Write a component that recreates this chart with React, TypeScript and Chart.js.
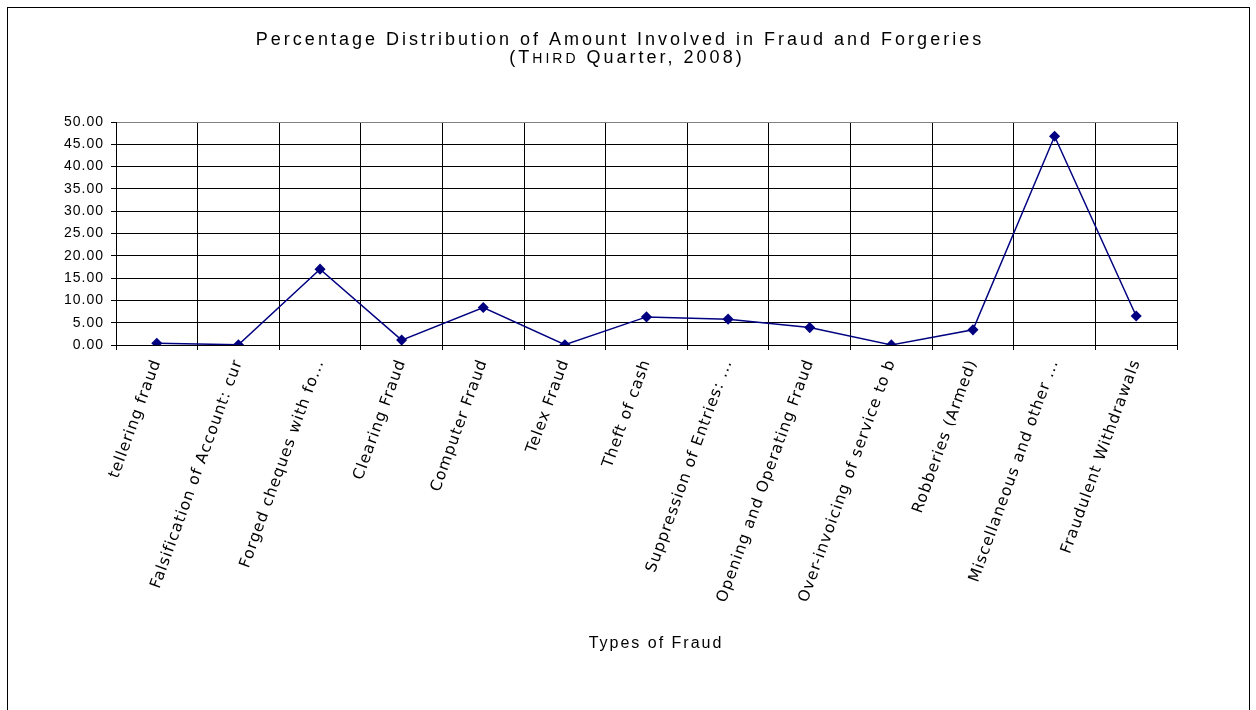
import React, { useEffect, useRef } from "react";
import { Chart, registerables } from "chart.js";

Chart.register(...registerables);

const categories: string[] = [
  "tellering fraud",
  "Falsification of Account: cur",
  "Forged cheques with fo...",
  "Clearing Fraud",
  "Computer Fraud",
  "Telex Fraud",
  "Theft of cash",
  "Suppression of Entries: ...",
  "Opening and Operating Fraud",
  "Over-invoicing of service to b",
  "Robberies (Armed)",
  "Miscellaneous and other ...",
  "Fraudulent Withdrawals",
];

const percentValues: number[] = [0.4, 0.05, 17.0, 1.1, 8.4, 0.07, 6.3, 5.8, 3.9, 0.02, 3.4, 46.8, 6.5];

const titleLine1 = "Percentage Distribution of Amount Involved in Fraud and Forgeries";
const titleLine2Parts: [string, boolean][] = [["(T", false], ["HIRD", true], [" Quarter, 2008)", false]];
const xAxisTitle = "Types of Fraud";

const yMin = 0;
const yMax = 50;
const yStep = 5;

const CHART_W = 1241;
const CHART_H = 702;

const spacingPlugin = {
  id: "spacing",
  beforeUpdate(chart: any) {
    chart.ctx.letterSpacing = "1px";
  },
  beforeDraw(chart: any) {
    chart.ctx.letterSpacing = "1px";
  },
};

const TITLE_FONT = "'Liberation Sans', Arial, sans-serif";

const titlesPlugin = {
  id: "customTitles",
  afterDraw(chart: any) {
    const ctx = chart.ctx as CanvasRenderingContext2D & { letterSpacing: string };
    ctx.save();
    ctx.fillStyle = "#000";
    ctx.textBaseline = "alphabetic";
    ctx.letterSpacing = "3px";
    ctx.font = `18px ${TITLE_FONT}`;
    ctx.textAlign = "center";
    ctx.fillText(titleLine1, 612, 37);
    // second line with small caps
    const widths = titleLine2Parts.map(([t, small]) => {
      ctx.font = small ? `14px ${TITLE_FONT}` : `18px ${TITLE_FONT}`;
      return ctx.measureText(t).width;
    });
    const total = widths.reduce((a, b) => a + b, 0);
    let x = 619 - total / 2;
    ctx.textAlign = "left";
    titleLine2Parts.forEach(([t, small], i) => {
      ctx.font = small ? `14px ${TITLE_FONT}` : `18px ${TITLE_FONT}`;
      ctx.fillText(t, x, 55);
      x += widths[i];
    });
    ctx.letterSpacing = "2px";
    ctx.font = `16px ${TITLE_FONT}`;
    ctx.textAlign = "center";
    ctx.fillText(xAxisTitle, 648, 640);
    ctx.restore();
  },
};

export default function App() {
  const canvasRef = useRef<HTMLCanvasElement | null>(null);

  useEffect(() => {
    if (!canvasRef.current) return;
    const chart = new Chart(canvasRef.current, {
      type: "line",
      data: {
        labels: categories,
        datasets: [
          {
            data: percentValues,
            borderColor: "#000080",
            backgroundColor: "#000080",
            borderWidth: 1.5,
            pointStyle: "rectRot",
            pointRadius: 4.5,
            pointHoverRadius: 4.5,
            pointBackgroundColor: "#000080",
            pointBorderColor: "#000080",
            tension: 0,
            fill: false,
          },
        ],
      },
      options: {
        responsive: false,
        animation: false,
        devicePixelRatio: 1,
        layout: { padding: { left: 0, right: 72, top: 114, bottom: 0 } },
        plugins: {
          legend: { display: false },
          title: { display: false },
          tooltip: { enabled: false },
        },
        scales: {
          x: {
            offset: true,
            grid: {
              offset: true,
              color: (c: any) => (c.index === categories.length ? "#808080" : "#000"),
              lineWidth: 1,
              drawTicks: true,
              tickLength: 5,
              tickColor: "#000",
            },
            border: { color: "#000", width: 1 },
            ticks: {
              autoSkip: false,
              minRotation: 70,
              maxRotation: 70,
              padding: 7,
              color: "#000",
              font: { family: "'DejaVu Sans'", size: 15.5 },
            },
            afterFit: (scale: any) => {
              scale.height = 365;
            },
          },
          y: {
            min: yMin,
            max: yMax,
            grid: {
              color: (c: any) => (c.tick && c.tick.value === yMax ? "#808080" : "#000"),
              lineWidth: 1,
              drawTicks: true,
              tickLength: 5,
              tickColor: "#000",
            },
            border: { color: "#000", width: 1 },
            ticks: {
              stepSize: yStep,
              padding: 7,
              color: "#000",
              font: { family: "'Liberation Sans', Arial", size: 14 },
              callback: (v: any) => Number(v).toFixed(2),
            },
            afterFit: (scale: any) => {
              scale.width = 108;
            },
          },
        },
      },
      plugins: [spacingPlugin, titlesPlugin],
    });
    return () => chart.destroy();
  }, []);

  return (
    <div
      style={{
        position: "absolute",
        left: 7,
        top: 7,
        width: CHART_W,
        height: 710,
        border: "1px solid #000",
        background: "#fff",
      }}
    >
      <canvas ref={canvasRef} width={CHART_W} height={CHART_H} style={{ display: "block", width: CHART_W, height: CHART_H }} />
    </div>
  );
}
